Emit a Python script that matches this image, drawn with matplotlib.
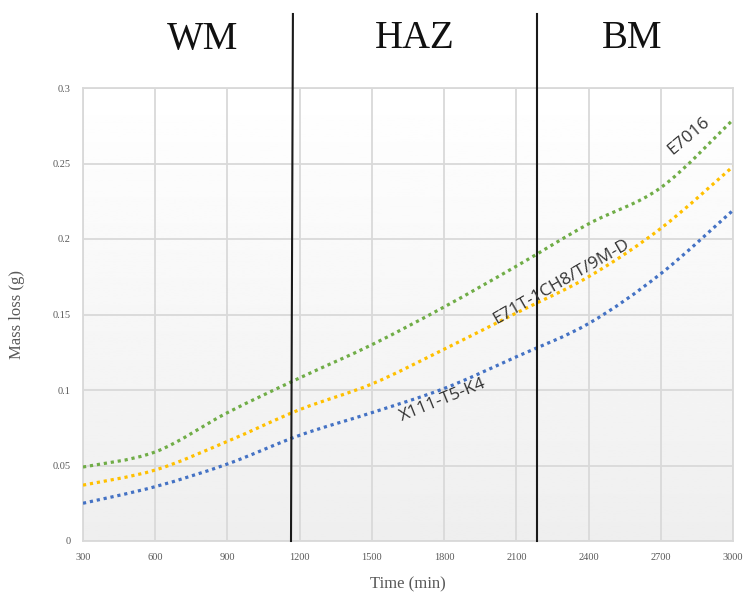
import numpy as np
import matplotlib
matplotlib.use('Agg')
import matplotlib.pyplot as plt
from matplotlib.path import Path
from matplotlib.patches import PathPatch

# values
time_min = [300, 600, 900, 1200, 1500, 1800, 2100, 2400, 2700, 3000]
e7016 = [0.049, 0.059, 0.085, 0.108, 0.130, 0.155, 0.182, 0.210, 0.234, 0.279]
e71t = [0.037, 0.047, 0.066, 0.087, 0.104, 0.127, 0.151, 0.175, 0.207, 0.248]
x111 = [0.025, 0.036, 0.051, 0.070, 0.085, 0.101, 0.122, 0.144, 0.177, 0.219]

zone_names = ['WM', 'HAZ', 'BM']
zone_bounds = [1168, 2186]
xticks = [300, 600, 900, 1200, 1500, 1800, 2100, 2400, 2700, 3000]
yticks = [0, 0.05, 0.1, 0.15, 0.2, 0.25, 0.3]


def smooth_path(xs, ys):
    # Excel-like smoothed line: bezier segments with catmull-rom tangents
    xs = np.asarray(xs, float)
    ys = np.asarray(ys, float)
    n = len(xs)
    verts = [(xs[0], ys[0])]
    codes = [Path.MOVETO]
    for i in range(n - 1):
        i0 = max(i - 1, 0)
        i3 = min(i + 2, n - 1)
        c1 = (xs[i] + (xs[i + 1] - xs[i0]) / 6, ys[i] + (ys[i + 1] - ys[i0]) / 6)
        c2 = (xs[i + 1] - (xs[i3] - xs[i]) / 6, ys[i + 1] - (ys[i3] - ys[i]) / 6)
        verts += [c1, c2, (xs[i + 1], ys[i + 1])]
        codes += [Path.CURVE4] * 3
    return Path(verts, codes)


fig = plt.figure(figsize=(7.49, 5.94), dpi=100)
ax = fig.add_axes([83 / 749, 1 - 541 / 594, 650 / 749, 453 / 594])

# light gradient in the plot area
grad = np.linspace(0.935, 1.0, 256).reshape(-1, 1)
ax.imshow(grad, extent=[300, 3000, 0, 0.3], origin='lower', aspect='auto',
          cmap='gray', vmin=0, vmax=1, zorder=0)

ax.set_xlim(300, 3000)
ax.set_ylim(0, 0.3)
ax.set_xticks(xticks)
ax.set_yticks(yticks)
ax.set_yticklabels(['0', '0.05', '0.1', '0.15', '0.2', '0.25', '0.3'])
ax.grid(True, color='#d9d9d9', lw=1.3, zorder=1)
ax.set_axisbelow(True)
ax.tick_params(length=0, labelsize=7.5, labelcolor='#595959', pad=9)
for lab in ax.get_xticklabels() + ax.get_yticklabels():
    lab.set_family('Liberation Serif')
for s in ax.spines.values():
    s.set_color('#d9d9d9')
    s.set_linewidth(1.3)

series = [(e7016, '#70AD47'), (e71t, '#FFC000'), (x111, '#4472C4')]
for vals, col in series:
    ax.add_patch(PathPatch(smooth_path(time_min, vals), fill=False, edgecolor=col,
                           lw=2.3, linestyle=(0, (1, 1.2)), zorder=3))

# zone boundaries
ax.plot([1172, 1164], [0.349, 0], color='#1a1a1a', lw=1.5, clip_on=False, zorder=4)
ax.plot([zone_bounds[1], zone_bounds[1]], [0.349, 0], color='#1a1a1a', lw=1.5,
        clip_on=False, zorder=4)

zone_x = [203, 415, 632]
for name, zx in zip(zone_names, zone_x):
    fig.text(zx / 749, 1 - 39 / 594, name, ha='center', va='center',
             fontsize=28, family='Liberation Serif', color='#111111')

# series labels on the curves
ax.text(2818, 0.268, 'E7016', rotation=40, ha='center', va='center', fontsize=12.5,
        family='Open Sans', color='#333333', zorder=5)
ax.text(2288, 0.1715, 'E71T-1CH8/T/9M-D', rotation=30, ha='center', va='center',
        fontsize=12.5, family='Open Sans', color='#333333', zorder=5)
ax.text(1796, 0.0933, 'X111-T5-K4', rotation=22, ha='center', va='center',
        fontsize=12.5, family='Open Sans', color='#333333', zorder=5)

ax.set_xlabel('Time (min)', fontsize=12, family='Liberation Serif', color='#595959')
ax.set_ylabel('Mass loss (g)', fontsize=12, family='Liberation Serif', color='#595959')
ax.xaxis.set_label_coords(0.5, -0.079)
ax.yaxis.set_label_coords(-0.089, 0.5)

fig.savefig('out.png', dpi=100)
